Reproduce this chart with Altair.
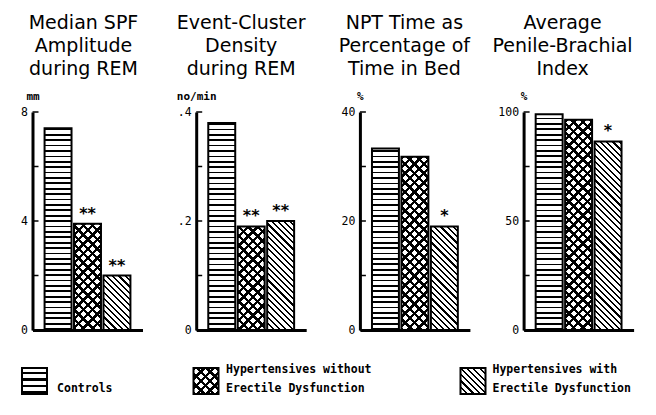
import math
import altair as alt
import pandas as pd

# ---------------- data ----------------
GROUPS = ["Controls",
          "Hypertensives without Erectile Dysfunction",
          "Hypertensives with Erectile Dysfunction"]
PANEL_TITLES = [["Median SPF", "Amplitude", "during REM"],
                ["Event-Cluster", "Density", "during REM"],
                ["NPT Time as", "Percentage of", "Time in Bed"],
                ["Average", "Penile-Brachial", "Index"]]
UNITS = ["mm", "no/min", "%", "%"]
Y_MAX = [8, 0.4, 40, 100]
LABEL_VALUES = [[0, 4, 8], [0, 0.2, 0.4], [0, 20, 40], [0, 50, 100]]
LABEL_TEXT = [["0", "4", "8"], ["0", ".2", ".4"], ["0", "20", "40"], ["0", "50", "100"]]
TICK_VALUES = [[0, 2, 4, 6, 8], [0, 0.1, 0.2, 0.3, 0.4],
               [0, 10, 20, 30, 40], [0, 25, 50, 75, 100]]
CONTROLS = [7.4, 0.38, 33.3, 99.0]
HYP_NO_ED = [3.9, 0.19, 31.8, 96.5]
HYP_ED = [2.0, 0.20, 19.0, 86.5]
STARS_NO_ED = ["**", "**", "", ""]
STARS_ED = ["**", "**", "*", "*"]
LEGEND_LINE1 = ["", "Hypertensives without", "Hypertensives with"]
LEGEND_LINE2 = ["Controls", "Erectile Dysfunction", "Erectile Dysfunction"]

# ---------------- layout / style ----------------
PW, PH = 110, 218
PI, PO = 0.085, 0.41
STEP = PW / (3 - PI + 2 * PO)
BW = STEP * (1 - PI)
TITLE_DX = [-4, -10, -10.5, -16]
MONO = "DejaVu Sans Mono"
SANS = "DejaVu Sans"
# legend placement, in pixels relative to the first panel's plot origin
SW_X = [-10.5, 161, 428]
TX_X = [24.6, 193.6, 460]
SW_Y, SW_W, SW_H = 256, 25, 26
TX_Y = [258, 277]


def stripe_stops(total, period, width, fg="black", bg="white"):
    stops = []
    k = 0
    while k * period < total:
        a = k * period / total
        b = min((k * period + width) / total, 1)
        c = min((k + 1) * period / total, 1)
        stops += [(a, fg), (b, fg), (b, bg), (c, bg)]
        k += 1
    return [alt.GradientStop(offset=o, color=col) for o, col in stops]


def hgrad(w, h, period=5.4, width=1.7):
    return alt.LinearGradient(gradient="linear", stops=stripe_stops(h, period, width),
                              x1=0, y1=1, x2=0, y2=0)


def dgrad(w, h, period, width, back=True, bg="white"):
    # back=True : "\" stripes ; back=False : "/" stripes
    a = (w + h) / (w * w + h * h)
    total = (w + h)
    stops = stripe_stops(total, period * math.sqrt(2), width * math.sqrt(2), bg=bg)
    if back:
        return alt.LinearGradient(gradient="linear", stops=stops,
                                  x1=0, y1=1, x2=a * w, y2=1 - a * h)
    return alt.LinearGradient(gradient="linear", stops=stops,
                              x1=0, y1=0, x2=a * w, y2=a * h)


XP, XW = 6.6, 2.4   # crosshatch period / line width
DP, DW = 4.4, 1.5   # diagonal stripes period / line width
KINDS = ["h", "x", "d"]


def pattern_layers(chart_for, mark, kind, w, h, enc, hperiod=5.4, hwidth=1.7):
    out = []
    m = getattr(chart_for, mark)
    if kind == "h":
        out.append(m(fill=hgrad(w, h, hperiod, hwidth), stroke="black", strokeWidth=2).encode(**enc))
    elif kind == "x":
        out.append(m(fill=dgrad(w, h, XP, XW, back=False), strokeWidth=0).encode(**enc))
        m2 = getattr(chart_for, mark)
        out.append(m2(fill=dgrad(w, h, XP, XW, back=True, bg="rgba(255,255,255,0)"),
                      stroke="black", strokeWidth=2).encode(**enc))
    else:
        out.append(m(fill=dgrad(w, h, DP, DW, back=True), stroke="black",
                     strokeWidth=2).encode(**enc))
    return out


def label_expr(vals, texts):
    expr = "''"
    for v, t in zip(reversed(vals), reversed(texts)):
        expr = f"abs(datum.value - {v}) < 1e-9 ? '{t}' : ({expr})"
    return expr


def legend_layers():
    leg_df = pd.DataFrame({"group": GROUPS, "line1": LEGEND_LINE1, "line2": LEGEND_LINE2})
    out = []
    for k, (g, kind) in enumerate(zip(GROUPS, KINDS)):
        sub = alt.Chart(leg_df).transform_filter(alt.datum.group == g)
        enc = {"x": alt.value(SW_X[k]), "x2": alt.value(SW_X[k] + SW_W),
               "y": alt.value(SW_Y), "y2": alt.value(SW_Y + SW_H)}
        out += pattern_layers(sub, "mark_rect", kind, SW_W, SW_H, enc, 6.5, 2.5)
        for field, yy in zip(("line1", "line2"), TX_Y):
            out.append(sub.mark_text(font=MONO, fontSize=11.5, fontWeight="bold",
                                     color="black", align="left", baseline="middle")
                       .encode(x=alt.value(TX_X[k]), y=alt.value(yy), text=f"{field}:N"))
    return out


def panel(i):
    vals = [CONTROLS[i], HYP_NO_ED[i], HYP_ED[i]]
    df = pd.DataFrame({"group": GROUPS, "value": vals,
                       "star": ["", STARS_NO_ED[i], STARS_ED[i]]})
    x = alt.X("group:N", sort=GROUPS,
              scale=alt.Scale(domain=GROUPS, paddingInner=PI, paddingOuter=PO),
              axis=alt.Axis(labels=False, ticks=False, title=None, grid=False,
                            domainWidth=3, domainColor="black"))
    y = alt.Y("value:Q", scale=alt.Scale(domain=[0, Y_MAX[i]], nice=False, zero=True),
              axis=alt.Axis(values=LABEL_VALUES[i],
                            labelExpr=label_expr(LABEL_VALUES[i], LABEL_TEXT[i]),
                            ticks=False, grid=False, domainWidth=3, domainColor="black",
                            labelFont=MONO, labelFontSize=11.5, labelColor="black",
                            labelPadding=5,
                            title=UNITS[i], titleAngle=0, titleAlign="center",
                            titleBaseline="bottom", titleX=0, titleY=-11,
                            titleFont=MONO, titleFontSize=11, titleFontWeight="bold",
                            titleColor="black"))
    base = alt.Chart(df)
    layers = []
    for g, kind, v in zip(GROUPS, KINDS, vals):
        h = v / Y_MAX[i] * PH
        sub = base.transform_filter(alt.datum.group == g)
        layers += pattern_layers(sub, "mark_bar", kind, BW, h, {"x": x, "y": y})
    ticks = alt.Chart(pd.DataFrame({"value": TICK_VALUES[i]})).mark_rule(
        color="black", strokeWidth=1.5).encode(x=alt.value(0), x2=alt.value(6), y=y)
    stars = base.mark_text(font=SANS, fontSize=16, fontWeight="bold", color="black",
                           baseline="alphabetic", dy=-5).encode(x=x, y=y, text="star:N")
    layers += [ticks, stars]
    if i == 0:
        layers += legend_layers()
    return alt.layer(*layers).properties(
        width=PW, height=PH,
        title=alt.TitleParams(text=PANEL_TITLES[i], font=SANS, fontSize=19,
                              fontWeight="normal", lineHeight=23, color="black",
                              anchor="middle", frame="group", dx=TITLE_DX[i], offset=11))


chart = alt.hconcat(*[panel(i) for i in range(4)], spacing=53.7, bounds="flush").properties(
    padding={"left": 12.5, "top": 6, "right": 5, "bottom": 5},
    background="white",
).configure_view(strokeWidth=0, stroke="transparent")

chart.save("out.html", embed_options={"renderer": "svg", "actions": False})
